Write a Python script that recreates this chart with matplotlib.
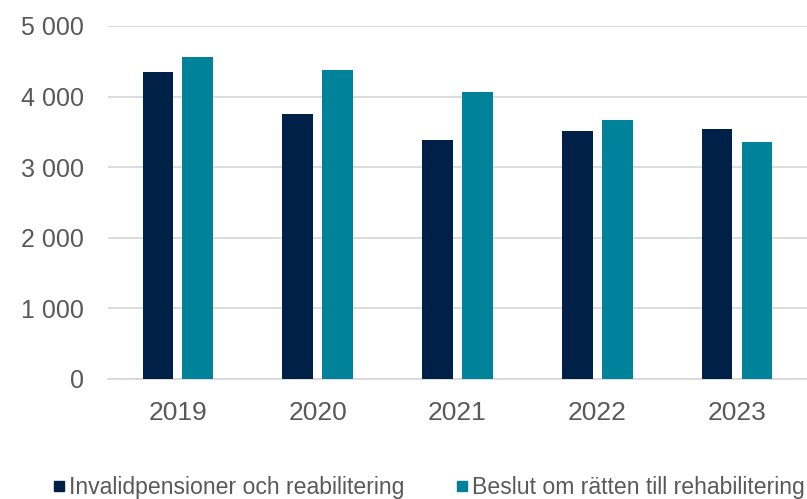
import matplotlib
matplotlib.use("Agg")
import matplotlib.pyplot as plt
from matplotlib.lines import Line2D
from matplotlib.ticker import FuncFormatter
import numpy as np

years = ["2019", "2020", "2021", "2022", "2023"]
invalid_rehab = [4355, 3750, 3385, 3515, 3545]
beslut_rehab = [4560, 4380, 4065, 3675, 3357]
series_names = ["Invalidpensioner och reabilitering",
                "Beslut om rätten till rehabilitering"]

dark = "#002147"
teal = "#00829A"
text_col = "#595959"
grid_col = "#D9D9D9"

plt.rcParams["font.family"] = ["Liberation Sans", "DejaVu Sans"]

fig = plt.figure(figsize=(8.07, 4.99), dpi=100)
ax = fig.add_axes([0.1338, 0.2405, 0.8662, 0.7074])

x = np.arange(len(years))
w = 0.22
off = 0.143
ax.bar(x - off, invalid_rehab, width=w, color=dark, zorder=3)
ax.bar(x + off, beslut_rehab, width=w, color=teal, zorder=3)

ax.set_xlim(-0.5, len(years) - 0.5)
ax.set_ylim(0, 5000)
ax.set_yticks(np.arange(0, 5001, 1000))
ax.yaxis.set_major_formatter(FuncFormatter(lambda v, p: f"{int(v):,}".replace(",", " ")))
ax.set_xticks(x)
ax.set_xticklabels(years)

ax.grid(axis="y", color=grid_col, linewidth=1.3, zorder=0)
for s in ["top", "right", "left"]:
    ax.spines[s].set_visible(False)
ax.spines["bottom"].set_color(grid_col)
ax.spines["bottom"].set_linewidth(1.3)
ax.tick_params(axis="both", length=0, colors=text_col)
ax.tick_params(axis="y", pad=17, labelsize=18)
ax.tick_params(axis="x", pad=16, labelsize=19)

handles = [Line2D([], [], marker="s", linestyle="none", markersize=7.5, color=c)
           for c in (dark, teal)]
fig.legend(handles, series_names, loc="lower left", bbox_to_anchor=(0.064, 0.0),
           ncol=2, frameon=False, fontsize=16.6, labelcolor=text_col,
           handlelength=0.6, handletextpad=0.15, columnspacing=2.2,
           borderpad=0, borderaxespad=0)

fig.savefig("out.png", dpi=100)
